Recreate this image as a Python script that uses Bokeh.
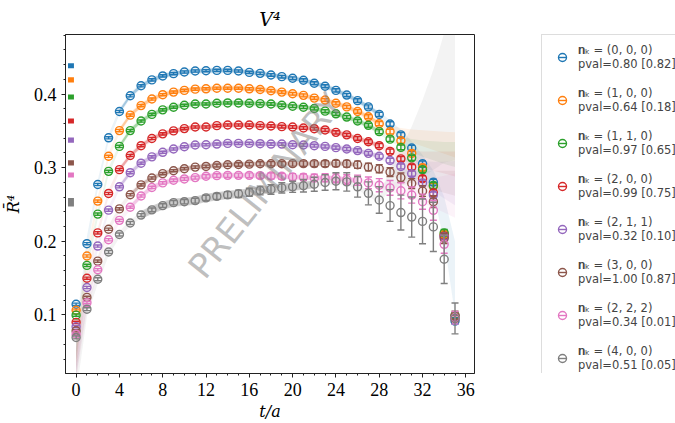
import math
from bokeh.plotting import figure
from bokeh.models import Range1d, Label, Legend, LegendItem, FixedTicker, ColumnDataSource
from bokeh.layouts import row
from bokeh.embed import file_html
from bokeh.resources import INLINE

t_vals = list(range(36))

names = ["(0, 0, 0)", "(1, 0, 0)", "(1, 1, 0)", "(2, 0, 0)",
         "(2, 1, 1)", "(3, 0, 0)", "(2, 2, 2)", "(4, 0, 0)"]
pvals = ["0.80 [0.82]", "0.64 [0.18]", "0.97 [0.65]", "0.99 [0.75]",
         "0.32 [0.10]", "1.00 [0.87]", "0.34 [0.01]", "0.51 [0.05]"]
colors = ["#1f77b4", "#ff7f0e", "#2ca02c", "#d62728",
          "#9467bd", "#8c564b", "#e377c2", "#7f7f7f"]

r_000 = [0.1144, 0.1967, 0.2771, 0.3406, 0.3764, 0.3978, 0.4113, 0.4193, 0.4247, 0.4278,
         0.4300, 0.4314, 0.4318, 0.4322, 0.4322, 0.4314, 0.4295, 0.4282, 0.4260, 0.4237,
         0.4215, 0.4188, 0.4148, 0.4107, 0.4050, 0.3987, 0.3911, 0.3826, 0.3724, 0.3594,
         0.3446, 0.3268, 0.3053, 0.2802, 0.2080, 0.0915]
r_100 = [0.1063, 0.1800, 0.2546, 0.3155, 0.3504, 0.3714, 0.3844, 0.3933, 0.3992, 0.4027,
         0.4050, 0.4067, 0.4072, 0.4080, 0.4080, 0.4080, 0.4072, 0.4063, 0.4046, 0.4027,
         0.4005, 0.3983, 0.3946, 0.3920, 0.3875, 0.3826, 0.3764, 0.3692, 0.3598, 0.3490,
         0.3366, 0.3195, 0.3000, 0.2749, 0.2095, 0.0970]
r_110 = [0.0996, 0.1672, 0.2369, 0.2950, 0.3289, 0.3504, 0.3634, 0.3724, 0.3786, 0.3822,
         0.3848, 0.3866, 0.3866, 0.3875, 0.3880, 0.3880, 0.3875, 0.3871, 0.3866, 0.3848,
         0.3835, 0.3822, 0.3804, 0.3768, 0.3732, 0.3688, 0.3634, 0.3576, 0.3490, 0.3388,
         0.3276, 0.3134, 0.2973, 0.2758, 0.2114, 0.0990]
r_200 = [0.0898, 0.1498, 0.2114, 0.2650, 0.2973, 0.3165, 0.3299, 0.3397, 0.3460, 0.3500,
         0.3531, 0.3553, 0.3553, 0.3571, 0.3580, 0.3580, 0.3580, 0.3571, 0.3567, 0.3558,
         0.3553, 0.3540, 0.3530, 0.3513, 0.3480, 0.3446, 0.3397, 0.3352, 0.3299, 0.3222,
         0.3120, 0.3008, 0.2852, 0.2659, 0.2070, 0.0950]
r_211 = [0.0840, 0.1372, 0.1935, 0.2423, 0.2740, 0.2932, 0.3061, 0.3147, 0.3209, 0.3254,
         0.3285, 0.3308, 0.3312, 0.3321, 0.3330, 0.3330, 0.3330, 0.3326, 0.3321, 0.3321,
         0.3312, 0.3308, 0.3299, 0.3289, 0.3272, 0.3254, 0.3232, 0.3195, 0.3155, 0.3097,
         0.3017, 0.2919, 0.2793, 0.2628, 0.2060, 0.0960]
r_300 = [0.0782, 0.1237, 0.1730, 0.2163, 0.2440, 0.2632, 0.2766, 0.2860, 0.2919, 0.2959,
         0.2986, 0.3008, 0.3017, 0.3030, 0.3040, 0.3044, 0.3048, 0.3053, 0.3053, 0.3053,
         0.3055, 0.3055, 0.3055, 0.3055, 0.3058, 0.3053, 0.3040, 0.3008, 0.2986, 0.2940,
         0.2865, 0.2785, 0.2682, 0.2538, 0.2040, 0.0990]
r_222 = [0.0737, 0.1166, 0.1613, 0.2021, 0.2284, 0.2463, 0.2615, 0.2731, 0.2793, 0.2829,
         0.2847, 0.2865, 0.2883, 0.2892, 0.2896, 0.2896, 0.2896, 0.2892, 0.2887, 0.2883,
         0.2874, 0.2870, 0.2860, 0.2862, 0.2856, 0.2838, 0.2829, 0.2793, 0.2762, 0.2726,
         0.2686, 0.2628, 0.2538, 0.2420, 0.1958, 0.0960]
r_400 = [0.0693, 0.1077, 0.1484, 0.1854, 0.2092, 0.2248, 0.2356, 0.2427, 0.2485, 0.2525,
         0.2538, 0.2552, 0.2590, 0.2610, 0.2630, 0.2645, 0.2665, 0.2690, 0.2705, 0.2725,
         0.2740, 0.2755, 0.2775, 0.2798, 0.2816, 0.2807, 0.2740, 0.2651, 0.2561, 0.2485,
         0.2390, 0.2329, 0.2270, 0.2195, 0.1756, 0.0952]

err_small = [0.0015, 0.0015, 0.0015, 0.0015, 0.0015, 0.0015, 0.0015, 0.0015, 0.0015, 0.0015,
             0.0015, 0.0015, 0.0015, 0.0015, 0.0015, 0.0015, 0.0016, 0.0017, 0.0018, 0.0018,
             0.0019, 0.0020, 0.0020, 0.0021, 0.0022, 0.0023, 0.0025, 0.0027, 0.0029, 0.0031,
             0.0033, 0.0035, 0.0038, 0.0040, 0.0045, 0.0040]
err_300 = [0.0015, 0.0015, 0.0015, 0.0015, 0.0015, 0.0015, 0.0015, 0.0015, 0.0015, 0.0015,
           0.0016, 0.0017, 0.0018, 0.0020, 0.0022, 0.0024, 0.0026, 0.0028, 0.0030, 0.0032,
           0.0034, 0.0036, 0.0038, 0.0040, 0.0042, 0.0045, 0.0049, 0.0052, 0.0055, 0.0059,
           0.0063, 0.0067, 0.0072, 0.0080, 0.0070, 0.0060]
err_222 = [0.0015, 0.0015, 0.0015, 0.0015, 0.0015, 0.0015, 0.0015, 0.0016, 0.0017, 0.0018,
           0.0019, 0.0020, 0.0025, 0.0025, 0.0030, 0.0030, 0.0033, 0.0036, 0.0040, 0.0040,
           0.0045, 0.0045, 0.0050, 0.0055, 0.0060, 0.0065, 0.0070, 0.0080, 0.0090, 0.0100,
           0.0110, 0.0110, 0.0103, 0.0134, 0.0120, 0.0085]
err_400 = [0.0020, 0.0020, 0.0020, 0.0020, 0.0020, 0.0020, 0.0020, 0.0025, 0.0025, 0.0030,
           0.0030, 0.0033, 0.0036, 0.0040, 0.0045, 0.0050, 0.0055, 0.0060, 0.0065, 0.0070,
           0.0075, 0.0085, 0.0095, 0.0105, 0.0116, 0.0125, 0.0140, 0.0156, 0.0180, 0.0215,
           0.0237, 0.0272, 0.0304, 0.0335, 0.0330, 0.0210]

values = [r_000, r_100, r_110, r_200, r_211, r_300, r_222, r_400]
errors = [err_small, err_small, err_small, err_small, err_small, err_300, err_222, err_400]

# plateau (fit) results drawn as small boxes at the left edge
plateau_val = [0.4385, 0.4193, 0.3960, 0.3634, 0.3375, 0.3066, 0.2900, 0.2530]
plateau_err = [0.0035, 0.0035, 0.0035, 0.0035, 0.0035, 0.0035, 0.0035, 0.0058]

# fit-curve bands: value at t=0, central values and half widths at t=29..35
fit_t0 = [0.060, 0.055, 0.050, 0.045, 0.040, 0.035, 0.030, 0.012]
fan_t = [29, 30, 31, 32, 33, 34, 35]
fan_mid = [
    [0.3594, 0.3446, 0.3268, 0.3053, 0.2802, 0.2300, 0.1500],
    [0.3520, 0.3470, 0.3430, 0.3400, 0.3370, 0.3340, 0.3310],
    [0.3410, 0.3350, 0.3300, 0.3260, 0.3230, 0.3200, 0.3180],
    [0.3240, 0.3180, 0.3140, 0.3110, 0.3090, 0.3070, 0.3050],
    [0.3110, 0.3050, 0.2990, 0.2930, 0.2880, 0.2830, 0.2790],
    [0.2950, 0.2910, 0.2880, 0.2850, 0.2830, 0.2810, 0.2790],
    [0.2740, 0.2720, 0.2700, 0.2680, 0.2660, 0.2640, 0.2620],
    [0.2850, 0.3000, 0.3180, 0.3400, 0.3650, 0.3950, 0.4200],
]
fan_hw = [
    [0.005, 0.007, 0.009, 0.012, 0.016, 0.030, 0.050],
    [0.005, 0.007, 0.009, 0.011, 0.013, 0.015, 0.017],
    [0.005, 0.007, 0.009, 0.011, 0.013, 0.015, 0.017],
    [0.005, 0.007, 0.009, 0.011, 0.013, 0.015, 0.017],
    [0.006, 0.009, 0.012, 0.016, 0.020, 0.025, 0.030],
    [0.005, 0.007, 0.009, 0.011, 0.013, 0.015, 0.017],
    [0.006, 0.009, 0.012, 0.016, 0.020, 0.025, 0.030],
    [0.015, 0.025, 0.038, 0.052, 0.068, 0.088, 0.110],
]
core_hw = [0.020, 0.010, 0.006, 0.005, 0.004, 0.004, 0.004, 0.004, 0.004, 0.004,
           0.004, 0.004, 0.004, 0.004, 0.004, 0.004, 0.004, 0.004, 0.004, 0.004,
           0.004, 0.004, 0.004, 0.004, 0.004, 0.004, 0.004, 0.004, 0.004]
fit_window = [(4, 28), (4, 28), (4, 28), (4, 28), (4, 28), (5, 26), (5, 26), (6, 22)]
fit_dark_hw = [0.0025, 0.0025, 0.0025, 0.0025, 0.0025, 0.0025, 0.0030, 0.0055]

XMIN, XMAX = -0.98, 36.8
YMIN, YMAX = 0.0203, 0.481

p = figure(width=480, height=423, x_range=Range1d(XMIN, XMAX), y_range=Range1d(YMIN, YMAX),
           toolbar_location=None, output_backend="svg",
           min_border_left=61, min_border_right=6, min_border_top=32, min_border_bottom=46)
p.background_fill_color = "white"
p.border_fill_color = "white"
p.grid.visible = False
p.outline_line_color = "#222222"
p.outline_line_width = 1

p.title.text = "V\u2074"
p.title.align = "center"
p.title.text_font = "DejaVu Serif"
p.title.text_font_style = "italic"
p.title.text_font_size = "19px"
p.title.text_color = "black"

for ax in (p.xaxis[0], p.yaxis[0]):
    ax.axis_line_color = "#222222"
    ax.major_tick_in = 0
    ax.major_tick_out = 4
    ax.minor_tick_in = 0
    ax.minor_tick_out = 2
    ax.major_tick_line_color = "#222222"
    ax.minor_tick_line_color = "#222222"
    ax.major_label_text_font = "Liberation Serif"
    ax.major_label_text_font_size = "18px"
    ax.major_label_text_color = "black"
    ax.axis_label_text_font = "DejaVu Serif"
    ax.axis_label_text_font_style = "italic"
    ax.axis_label_text_font_size = "16px"
    ax.axis_label_text_color = "black"

p.xaxis.ticker = FixedTicker(ticks=[0, 4, 8, 12, 16, 20, 24, 28, 32, 36],
                             minor_ticks=list(range(-1, 37)))
p.yaxis.ticker = FixedTicker(ticks=[0.1, 0.2, 0.3, 0.4],
                             minor_ticks=[0.02 * k for k in range(1, 25)])
p.xaxis.axis_label = "t/a"
p.yaxis.axis_label = "R\u0304\u2074"
p.xaxis.axis_label_standoff = 3
p.yaxis.axis_label_standoff = 8

# bands
for i in range(8):
    mid = [fit_t0[i]] + values[i][1:29] + fan_mid[i]
    hw = core_hw + fan_hw[i]
    lo = [m - h for m, h in zip(mid, hw)]
    hi = [m + h for m, h in zip(mid, hw)]
    p.varea(x=t_vals, y1=lo, y2=hi, fill_color=colors[i], fill_alpha=0.09)
    a, b = fit_window[i]
    tt = t_vals[a:b + 1]
    vv = values[i][a:b + 1]
    p.varea(x=tt, y1=[v - fit_dark_hw[i] for v in vv], y2=[v + fit_dark_hw[i] for v in vv],
            fill_color=colors[i], fill_alpha=0.35)

# plateau boxes
p.quad(left=[-0.75] * 8, right=[-0.2] * 8,
       bottom=[v - e for v, e in zip(plateau_val, plateau_err)],
       top=[v + e for v, e in zip(plateau_val, plateau_err)],
       fill_color=colors, line_color=None)

# data with error bars
for i in range(8):
    v = values[i]
    e = errors[i]
    src = ColumnDataSource(dict(t=t_vals, v=v,
                                lo=[a - b for a, b in zip(v, e)],
                                hi=[a + b for a, b in zip(v, e)]))
    p.segment(x0="t", y0="lo", x1="t", y1="hi", source=src, line_color=colors[i], line_width=1.4)
    p.scatter(x="t", y="lo", source=src, marker="dash", size=7, line_color=colors[i], line_width=1.4)
    p.scatter(x="t", y="hi", source=src, marker="dash", size=7, line_color=colors[i], line_width=1.4)
    p.scatter(x="t", y="v", source=src, marker="circle", size=8, fill_color=None,
              line_color=colors[i], line_width=1.4)

p.add_layout(Label(x=17.5, y=0.276, text="PRELIMINARY", angle=51.5 * math.pi / 180,
                   text_align="center", text_baseline="middle", text_font="DejaVu Sans",
                   text_font_size="34px", text_color="#808080", text_alpha=0.5))

# legend panel (its glyph renderers hold the series, kept outside the visible range)
lf = figure(width=195, height=423, x_range=Range1d(-100, -99), y_range=Range1d(-100, -99),
            toolbar_location=None, output_backend="svg", title=None,
            x_axis_location=None, y_axis_location=None,
            min_border_left=61, min_border_top=20, min_border_right=0, min_border_bottom=11)
lf.grid.visible = False
lf.outline_line_color = None
items = []
for i in range(8):
    lsrc = ColumnDataSource(dict(t=t_vals, v=values[i]))
    c1 = lf.scatter(x="t", y="v", source=lsrc, marker="circle", size=8, fill_color=None,
                    line_color=colors[i], line_width=1.4)
    c2 = lf.scatter(x="t", y="v", source=lsrc, marker="dash", size=8,
                    line_color=colors[i], line_width=1.4)
    items.append(LegendItem(label="\U0001D427\u2096 = " + names[i] + "\npval=" + pvals[i],
                            renderers=[c1, c2]))
leg = Legend(items=items, location="top_left", margin=0, padding=8, spacing=15,
             glyph_width=24, glyph_height=20, label_standoff=4,
             label_text_font="DejaVu Sans", label_text_font_size="11.5px",
             border_line_color="#bbbbbb", border_line_width=1, background_fill_alpha=1.0)
lf.add_layout(leg)

layout = row(p, lf)
open("out.html", "w").write(file_html(layout, INLINE))
